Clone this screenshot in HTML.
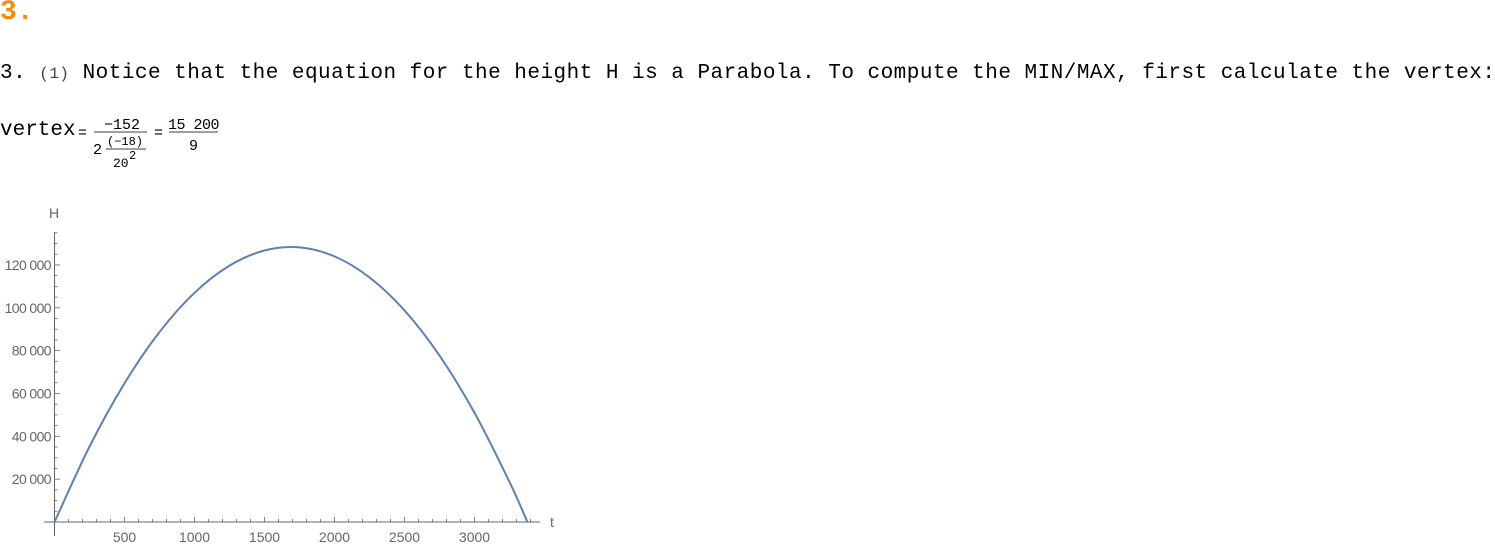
<!DOCTYPE html>
<html><head><meta charset="utf-8"><style>
body{margin:0;width:1495px;height:548px;background:#fff;position:relative;overflow:hidden;font-family:"Liberation Mono","DejaVu Sans Mono",monospace;color:#000}
.a{position:absolute;white-space:nowrap}
</style></head><body>
<div class="a" style="left:0;top:-3px;font-size:28px;font-weight:bold;color:#f7890c">3.</div>
<div class="a" style="left:0;top:62px;font-size:21px;letter-spacing:0.48px">3. <span style="font-size:16px;color:#444">(1)</span> Notice that the equation for the height H is a Parabola. To compute the MIN/MAX, first calculate the vertex:</div>
<div class="a" style="left:0;top:119px;font-size:21px">vertex</div>
<svg class="a" style="left:0;top:0" width="1495" height="548" font-family="Liberation Mono, monospace">
<text x="78" y="137" font-size="15">=</text>
<text x="104" y="129" font-size="15">−152</text>
<line x1="94" y1="132" x2="147" y2="132" stroke="#000" stroke-width="0.8"/>
<text x="93" y="154" font-size="15">2</text>
<text x="107" y="145" font-size="12">(−18)</text>
<line x1="106" y1="149" x2="146" y2="149" stroke="#000" stroke-width="0.8"/>
<text x="113" y="167" font-size="13">20</text><text x="129" y="159" font-size="12">2</text>
<text x="154" y="137" font-size="15">=</text>
<text x="168" y="129" font-size="15" letter-spacing="-0.5">15 200</text>
<line x1="169" y1="132" x2="218" y2="132" stroke="#000" stroke-width="0.8"/>
<text x="189" y="150" font-size="15">9</text>
</svg>
<svg id="chart" class="a" style="left:0;top:0" width="1495" height="548" font-family="Liberation Sans, sans-serif"></svg>
<script>
const tVals=[0,250,500,750,1000,1250,1500,1750,2000,2250,2500,2750,3000,3250,3378];
const hVals=[0,35188,64750,88688,107000,119688,126750,128188,124000,114188,98750,77688,51000,18688,0];
const xTicks=[500,1000,1500,2000,2500,3000];
const yTicks=[20000,40000,60000,80000,100000,120000];
const yLabels=["20 000","40 000","60 000","80 000","100 000","120 000"];
const NS="http://www.w3.org/2000/svg";
const svg=document.getElementById('chart');
const X=t=>54.5+t*0.14;
const Y=h=>522-h*0.002142;
function mk(tag,attrs){const e=document.createElementNS(NS,tag);for(const k in attrs)e.setAttribute(k,attrs[k]);svg.appendChild(e);return e;}
const ax=mk('line',{x1:44,y1:522,x2:540,y2:522,stroke:'#666','stroke-width':1});

const ay=mk('line',{x1:54.5,y1:232,x2:54.5,y2:536,stroke:'#666','stroke-width':1});

for(let t=100;t<=3400;t+=100){const maj=t%500===0;const l=mk('line',{x1:X(t),x2:X(t),y1:522,y2:maj?517:519,stroke:'#666','stroke-width':0.8});
}
for(let h=5000;h<=135000;h+=5000){const maj=h%20000===0;const l=mk('line',{x1:54.5,x2:maj?60:57.5,y1:Y(h),y2:Y(h),stroke:'#666','stroke-width':0.8});
}
xTicks.forEach(t=>{const e=mk('text',{x:X(t),y:542,'font-size':14,fill:'#666','text-anchor':'middle'});e.textContent=t;
});
yTicks.forEach((h,i)=>{const e=mk('text',{x:51,y:Y(h)+5,'font-size':14,fill:'#666','text-anchor':'end','letter-spacing':'-0.6'});e.textContent=yLabels[i];
});
const xt=mk('text',{x:550,y:527,'font-size':14,fill:'#666'});xt.textContent='t';

const yt=mk('text',{x:49,y:218,'font-size':14,fill:'#666'});yt.textContent='H';

const P=tVals.map((t,i)=>[X(t),Y(hVals[i])]);
let d='M'+P[0][0]+','+P[0][1];
for(let i=0;i<P.length-1;i++){const p0=P[Math.max(0,i-1)],p1=P[i],p2=P[i+1],p3=P[Math.min(P.length-1,i+2)];
d+=` C${p1[0]+(p2[0]-p0[0])/6},${p1[1]+(p2[1]-p0[1])/6} ${p2[0]-(p3[0]-p1[0])/6},${p2[1]-(p3[1]-p1[1])/6} ${p2[0]},${p2[1]}`;}
const c=mk('path',{d:d,fill:'none',stroke:'#5e81b5','stroke-width':2});

</script>
</body></html>
